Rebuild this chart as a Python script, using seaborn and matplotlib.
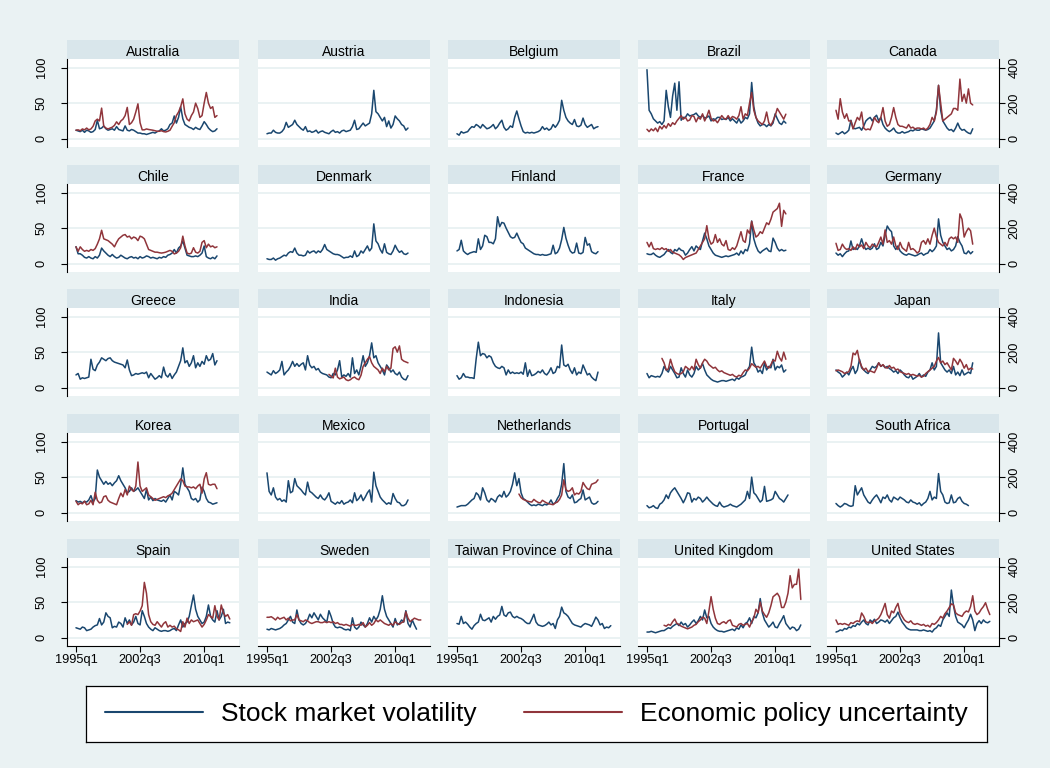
import numpy as np
import pandas as pd
import matplotlib
matplotlib.use("Agg")
import matplotlib.pyplot as plt
from matplotlib.lines import Line2D
import seaborn as sns

# ── data (quarterly, index 0 = 1995q1) ──────────────────────
countries = ["Australia", "Austria", "Belgium", "Brazil", "Canada",
             "Chile", "Denmark", "Finland", "France", "Germany",
             "Greece", "India", "Indonesia", "Italy", "Japan",
             "Korea", "Mexico", "Netherlands", "Portugal", "South Africa",
             "Spain", "Sweden", "Taiwan Province of China", "United Kingdom", "United States"]

xtick_labels = ["1995q1", "2002q3", "2010q1"]
vol_ticks = [0, 50, 100]
epu_ticks = [0, 200, 400]

australia_vol = [12, 11, 10, 12, 9, 12, 11, 9, 10, 13, 26, 14, 15, 18, 14, 12, 13, 14, 12, 17,
                 13, 12, 11, 18, 12, 11, 13, 12, 10, 8, 8, 7, 7, 6, 7, 8, 9, 8, 10, 11,
                 14, 11, 12, 14, 20, 22, 32, 22, 30, 45, 28, 20, 18, 16, 15, 13, 16, 14, 13, 18,
                 24, 20, 15, 12, 10, 11, 14]
australia_epu = [48, 50, 45, 55, 50, 60, 50, 55, 70, 100, 110, 100, 172, 70, 60, 55, 60, 65, 75, 95,
                 80, 100, 110, 130, 176, 80, 90, 110, 150, 196, 90, 50, 50, 55, 52, 50, 48, 45, 42, 42,
                 45, 40, 38, 42, 48, 70, 90, 130, 150, 180, 224, 140, 110, 100, 130, 150, 200, 170, 120, 130,
                 200, 260, 200, 170, 180, 120, 130]
austria_vol = [7, 8, 8, 12, 9, 8, 8, 10, 14, 23, 16, 18, 20, 26, 20, 17, 14, 12, 17, 10,
               11, 9, 10, 12, 8, 10, 11, 9, 8, 7, 10, 12, 9, 10, 8, 11, 12, 10, 11, 12,
               17, 26, 13, 14, 18, 22, 18, 20, 22, 35, 68, 38, 35, 30, 25, 30, 17, 25, 15, 20,
               32, 28, 25, 20, 18, 12, 15]
belgium_vol = [7, 5, 10, 8, 9, 10, 14, 17, 16, 20, 18, 15, 20, 17, 14, 15, 17, 20, 14, 17,
               22, 26, 16, 12, 14, 18, 16, 30, 39, 28, 18, 10, 8, 9, 8, 9, 8, 9, 10, 12,
               17, 13, 15, 12, 14, 20, 16, 20, 26, 54, 40, 30, 25, 22, 20, 27, 18, 17, 19, 29,
               20, 16, 18, 20, 14, 16, 17]
brazil_vol = [97, 40, 35, 28, 25, 22, 24, 20, 25, 68, 45, 30, 60, 78, 40, 80, 26, 30, 30, 35,
              32, 33, 34, 36, 32, 30, 33, 29, 30, 32, 25, 28, 27, 30, 30, 27, 28, 27, 30, 25,
              28, 25, 22, 28, 22, 25, 30, 28, 35, 79, 45, 30, 22, 18, 20, 20, 17, 20, 18, 22,
              35, 28, 22, 20, 25, 22]
brazil_epu = [53, 40, 55, 45, 60, 40, 70, 55, 75, 60, 85, 70, 90, 80, 100, 115, 130, 110, 120, 100,
              105, 130, 125, 95, 120, 110, 140, 100, 125, 160, 115, 100, 105, 90, 110, 130, 115, 110, 130, 110,
              125, 120, 110, 130, 180, 110, 140, 130, 200, 260, 160, 120, 100, 90, 80, 100, 150, 90, 75, 100,
              130, 170, 150, 130, 110, 138]
canada_vol = [8, 6, 8, 10, 7, 9, 12, 26, 15, 14, 15, 16, 12, 18, 25, 28, 30, 25, 30, 33,
              25, 30, 20, 15, 12, 10, 12, 15, 10, 8, 8, 10, 8, 9, 10, 12, 11, 13, 12, 12,
              14, 13, 12, 13, 15, 20, 25, 40, 75, 40, 25, 20, 15, 12, 13, 10, 15, 22, 15, 12,
              13, 10, 8, 7, 14]
canada_epu = [160, 110, 225, 150, 115, 140, 100, 100, 55, 90, 120, 105, 150, 60, 50, 55, 50, 80, 120, 100,
              90, 120, 175, 100, 70, 80, 120, 175, 120, 80, 70, 70, 65, 60, 80, 60, 65, 55, 60, 60,
              55, 60, 50, 60, 80, 120, 100, 150, 300, 200, 100, 110, 120, 130, 140, 170, 170, 160, 335, 210,
              250, 200, 280, 200, 190]
chile_vol = [24, 14, 14, 12, 9, 8, 10, 8, 7, 10, 8, 12, 22, 18, 15, 12, 10, 13, 10, 8,
             9, 12, 10, 8, 7, 9, 10, 8, 9, 7, 10, 8, 9, 11, 10, 8, 9, 8, 7, 9,
             8, 10, 9, 12, 13, 15, 20, 15, 22, 25, 32, 22, 12, 11, 10, 10, 11, 10, 12, 15,
             25, 10, 8, 7, 9, 7, 11]
chile_epu = [95, 70, 95, 80, 70, 75, 70, 80, 75, 85, 110, 140, 188, 140, 135, 130, 120, 110, 95, 120,
             140, 150, 160, 164, 150, 155, 140, 150, 145, 130, 155, 150, 140, 110, 80, 75, 70, 65, 65, 62,
             60, 62, 65, 70, 75, 70, 55, 60, 70, 90, 155, 100, 60, 55, 60, 90, 65, 60, 70, 120,
             130, 90, 110, 95, 100, 90, 95]
denmark_vol = [7, 6, 6, 8, 5, 7, 8, 10, 12, 11, 15, 17, 16, 22, 15, 12, 12, 11, 12, 18,
               15, 17, 18, 15, 18, 16, 20, 27, 20, 18, 16, 14, 13, 13, 12, 10, 8, 9, 9, 11,
               9, 18, 10, 12, 18, 15, 20, 25, 18, 22, 56, 32, 28, 20, 15, 28, 16, 14, 13, 18,
               26, 20, 16, 18, 14, 13, 15]
finland_vol = [18, 20, 33, 18, 15, 13, 15, 16, 17, 16, 35, 20, 25, 40, 38, 30, 30, 28, 35, 66,
               52, 58, 57, 50, 44, 38, 36, 37, 43, 36, 30, 28, 22, 20, 18, 16, 14, 13, 13, 12,
               13, 12, 12, 13, 14, 26, 14, 16, 22, 34, 51, 36, 26, 18, 15, 16, 29, 15, 14, 16,
               37, 26, 28, 17, 15, 14, 17]
france_vol = [14, 13, 13, 15, 12, 10, 9, 11, 13, 17, 20, 16, 14, 20, 18, 22, 19, 18, 12, 15,
              20, 24, 18, 25, 22, 20, 32, 43, 35, 25, 20, 15, 12, 11, 10, 9, 10, 11, 10, 11,
              12, 13, 15, 12, 18, 14, 20, 18, 28, 60, 35, 25, 18, 15, 18, 20, 22, 18, 17, 36,
              30, 22, 18, 20, 18, 19]
france_epu = [120, 95, 120, 85, 80, 85, 80, 90, 80, 85, 70, 80, 65, 60, 55, 50, 40, 24, 35, 40,
              45, 50, 55, 60, 80, 100, 120, 140, 214, 140, 110, 120, 164, 120, 140, 110, 100, 130, 80, 75,
              90, 80, 100, 140, 180, 130, 120, 190, 170, 238, 190, 150, 160, 180, 170, 200, 230, 220, 250, 290,
              300, 310, 340, 210, 300, 280]
germany_vol = [15, 12, 14, 10, 14, 17, 18, 32, 20, 22, 20, 25, 35, 25, 20, 22, 20, 22, 28, 20,
               22, 30, 25, 40, 53, 48, 45, 25, 20, 25, 18, 15, 13, 12, 14, 13, 12, 11, 12, 14,
               15, 12, 14, 15, 20, 17, 20, 25, 63, 40, 30, 25, 20, 22, 18, 20, 25, 38, 30, 25,
               15, 14, 18, 14, 17]
germany_epu = [115, 75, 80, 110, 90, 80, 85, 75, 95, 80, 110, 95, 105, 85, 120, 100, 90, 110, 100, 95,
               120, 150, 110, 190, 120, 130, 110, 150, 100, 80, 120, 90, 80, 70, 120, 80, 85, 75, 60, 70,
               120, 130, 110, 140, 110, 160, 200, 150, 120, 110, 100, 120, 100, 140, 150, 140, 150, 120, 280, 250,
               150, 180, 200, 185, 110]
greece_vol = [18, 20, 12, 14, 13, 14, 15, 40, 26, 24, 32, 36, 42, 40, 38, 41, 42, 38, 36, 35,
              34, 33, 32, 28, 39, 25, 17, 18, 20, 19, 20, 21, 20, 22, 14, 20, 16, 12, 14, 17,
              14, 29, 18, 15, 20, 13, 18, 22, 30, 38, 56, 35, 38, 30, 35, 45, 28, 35, 30, 37,
              33, 45, 38, 40, 48, 32, 38]
india_vol = [22, 20, 18, 24, 20, 22, 25, 37, 18, 22, 25, 30, 37, 30, 34, 30, 33, 35, 25, 45,
             32, 28, 30, 25, 27, 22, 20, 19, 18, 15, 14, 20, 18, 25, 38, 15, 18, 16, 20, 15,
             42, 20, 25, 18, 30, 45, 30, 35, 45, 63, 42, 45, 35, 30, 25, 18, 32, 28, 22, 25,
             20, 18, 22, 15, 12, 11, 17]
india_epu = [75, 65, 55, 110, 60, 50, 55, 60, 45, 40, 45, 55, 60, 50, 45, 70, 120, 140, 160, 175,
             140, 120, 110, 100, 80, 110, 90, 120, 100, 110, 220, 230, 200, 235, 160, 150, 145, 140]
indonesia_vol = [17, 12, 14, 20, 15, 15, 14, 14, 13, 41, 64, 45, 48, 47, 42, 45, 43, 35, 30, 28,
                 27, 30, 28, 18, 25, 20, 22, 20, 21, 20, 22, 19, 35, 16, 25, 17, 18, 20, 23, 21,
                 25, 20, 18, 22, 28, 20, 22, 30, 28, 60, 32, 30, 33, 25, 20, 28, 18, 22, 20, 32,
                 25, 18, 20, 15, 12, 10, 22]
italy_vol = [20, 14, 17, 16, 15, 16, 15, 20, 30, 25, 22, 30, 25, 20, 14, 15, 28, 20, 15, 25,
             18, 15, 20, 30, 25, 28, 34, 25, 18, 15, 12, 10, 9, 8, 9, 10, 10, 9, 10, 11,
             12, 10, 14, 12, 15, 16, 18, 25, 30, 57, 35, 30, 22, 25, 20, 35, 25, 30, 28, 40,
             25, 30, 28, 32, 22, 25]
italy_epu = [165, 140, 100, 105, 160, 120, 90, 80, 75, 80, 90, 120, 110, 100, 120, 100, 160, 130, 110, 140,
             160, 150, 130, 120, 110, 115, 100, 90, 95, 85, 80, 75, 70, 75, 65, 60, 70, 65, 85, 100,
             95, 110, 135, 125, 115, 120, 110, 130, 150, 120, 110, 130, 155, 150, 205, 170, 150, 200, 160]
japan_vol = [25, 22, 20, 15, 18, 22, 18, 25, 30, 20, 25, 40, 28, 25, 22, 20, 25, 30, 28, 30,
             35, 30, 32, 28, 30, 27, 25, 22, 24, 20, 25, 22, 18, 15, 14, 18, 12, 14, 16, 20,
             15, 18, 16, 22, 25, 35, 25, 30, 77, 35, 30, 25, 22, 25, 20, 30, 18, 22, 17, 25,
             18, 20, 22, 20, 35]
japan_epu = [95, 100, 95, 90, 80, 85, 90, 120, 195, 185, 210, 150, 120, 100, 110, 90, 95, 90, 85, 110,
             140, 120, 130, 115, 110, 125, 110, 115, 100, 105, 90, 85, 80, 75, 80, 70, 75, 70, 65, 70,
             60, 65, 80, 90, 100, 110, 120, 150, 170, 140, 150, 130, 140, 120, 100, 165, 150, 130, 160, 140,
             110, 130, 100, 110, 105]
korea_vol = [17, 15, 16, 14, 16, 15, 18, 24, 15, 20, 60, 50, 45, 40, 44, 40, 42, 38, 42, 45,
             52, 45, 40, 35, 28, 30, 35, 30, 32, 35, 30, 25, 20, 33, 18, 22, 17, 20, 18, 17,
             16, 18, 15, 20, 25, 18, 30, 28, 25, 40, 63, 40, 35, 30, 20, 18, 20, 15, 18, 36,
             30, 20, 15, 14, 12, 13, 14]
korea_epu = [65, 45, 55, 50, 65, 45, 50, 70, 45, 115, 70, 55, 60, 90, 95, 70, 60, 55, 50, 45,
             80, 110, 90, 130, 100, 150, 130, 120, 150, 285, 150, 120, 130, 140, 100, 90, 80, 70, 75, 80,
             85, 90, 85, 95, 100, 110, 130, 150, 170, 190, 180, 150, 145, 145, 140, 145, 135, 150, 160, 110,
             190, 225, 160, 155, 160, 160, 135]
mexico_vol = [56, 30, 25, 35, 22, 18, 20, 16, 18, 15, 45, 28, 30, 48, 38, 35, 32, 28, 25, 43,
              30, 28, 25, 22, 20, 25, 20, 18, 22, 28, 16, 14, 12, 15, 13, 17, 12, 14, 15, 18,
              14, 28, 17, 20, 25, 17, 22, 28, 32, 15, 57, 38, 30, 22, 18, 15, 12, 14, 12, 27,
              20, 15, 14, 10, 10, 12, 18]
netherlands_vol = [8, 9, 10, 10, 10, 12, 15, 18, 20, 28, 25, 18, 35, 28, 18, 15, 20, 18, 15, 22,
                   25, 22, 30, 22, 25, 30, 40, 56, 38, 48, 28, 20, 18, 15, 12, 10, 11, 10, 12, 11,
                   10, 12, 11, 13, 18, 12, 14, 20, 25, 40, 69, 30, 22, 20, 25, 14, 15, 18, 20, 32,
                   18, 20, 22, 14, 12, 13, 16]
netherlands_epu = [105, 85, 75, 70, 65, 62, 60, 75, 65, 58, 55, 70, 62, 55, 50, 48, 45, 55, 60, 75,
                   100, 185, 130, 120, 125, 140, 100, 110, 105, 120, 170, 150, 135, 130, 160, 165, 170, 185]
portugal_vol = [10, 7, 8, 10, 7, 6, 12, 14, 18, 25, 20, 28, 32, 35, 30, 25, 20, 14, 20, 28,
                27, 15, 20, 18, 22, 20, 15, 18, 22, 18, 15, 12, 10, 9, 15, 10, 8, 9, 10, 12,
                10, 9, 8, 10, 12, 15, 18, 30, 20, 50, 28, 25, 20, 15, 18, 37, 16, 17, 18, 20,
                30, 25, 20, 18, 15, 20, 25]
south_africa_vol = [13, 10, 8, 10, 13, 12, 10, 9, 10, 38, 25, 30, 35, 25, 20, 15, 13, 18, 22, 25,
                    20, 14, 22, 20, 25, 18, 15, 22, 20, 18, 22, 20, 18, 15, 14, 18, 15, 14, 12, 14,
                    10, 13, 15, 20, 30, 18, 22, 20, 55, 30, 25, 15, 13, 14, 25, 14, 15, 20, 22, 16,
                    13, 12, 10]
spain_vol = [14, 13, 12, 15, 14, 10, 11, 12, 15, 17, 18, 27, 18, 22, 35, 30, 28, 14, 16, 15,
             22, 20, 15, 28, 20, 25, 18, 22, 30, 20, 18, 38, 30, 20, 15, 12, 10, 14, 12, 10,
             9, 10, 10, 9, 10, 12, 13, 10, 18, 25, 15, 20, 22, 30, 45, 60, 40, 30, 25, 20,
             22, 30, 46, 30, 25, 22, 38, 25, 30, 40, 20, 22, 21]
spain_epu = [75, 90, 70, 130, 135, 130, 150, 180, 311, 250, 130, 90, 75, 70, 90, 75, 60, 80, 90, 60,
             70, 60, 65, 50, 45, 35, 90, 60, 110, 80, 100, 90, 95, 100, 80, 60, 75, 100, 130, 120,
             110, 180, 120, 100, 184, 140, 120, 130, 105]
sweden_vol = [12, 11, 13, 12, 11, 12, 13, 15, 18, 20, 25, 30, 22, 20, 39, 25, 20, 18, 20, 25,
              33, 28, 35, 30, 25, 33, 28, 25, 22, 38, 30, 20, 15, 14, 15, 14, 12, 11, 12, 10,
              28, 15, 12, 15, 22, 18, 15, 20, 28, 22, 30, 25, 30, 40, 59, 40, 30, 25, 20, 15,
              27, 18, 20, 25, 22, 38, 20, 15, 25, 18, 12]
sweden_epu = [115, 115, 118, 110, 100, 115, 105, 110, 115, 100, 110, 95, 100, 100, 130, 100, 95, 90, 100, 95,
              85, 80, 85, 90, 90, 85, 85, 90, 85, 90, 85, 90, 80, 85, 75, 75, 70, 75, 70, 65,
              75, 70, 70, 75, 70, 85, 60, 70, 85, 70, 80, 100, 90, 100, 90, 80, 75, 70, 80, 70,
              90, 80, 75, 85, 90, 146, 110, 90, 100, 110, 105, 100, 100]
taiwan_vol = [20, 19, 30, 20, 22, 19, 15, 12, 17, 20, 22, 33, 25, 24, 26, 28, 22, 30, 26, 30,
              32, 44, 32, 30, 35, 36, 30, 28, 30, 28, 27, 25, 22, 20, 20, 26, 33, 22, 18, 17,
              16, 17, 19, 22, 18, 20, 13, 25, 30, 43, 35, 33, 30, 25, 20, 18, 17, 16, 15, 18,
              20, 19, 18, 16, 22, 29, 25, 18, 20, 13, 15, 14, 17]
uk_vol = [8, 8, 9, 8, 7, 8, 9, 10, 10, 12, 14, 13, 16, 18, 20, 17, 22, 18, 20, 15,
          18, 22, 25, 20, 24, 30, 25, 39, 28, 30, 20, 15, 12, 10, 9, 9, 8, 9, 10, 11,
          12, 10, 14, 12, 18, 14, 20, 22, 28, 20, 30, 28, 35, 55, 35, 25, 20, 15, 18, 22,
          15, 14, 20, 25, 31, 20, 16, 12, 15, 14, 10, 12, 18]
uk_epu = [70, 65, 75, 70, 90, 105, 80, 75, 65, 60, 55, 50, 55, 60, 70, 75, 90, 100, 115, 110,
          80, 150, 231, 160, 110, 80, 75, 85, 90, 80, 95, 100, 70, 65, 60, 75, 80, 70, 75, 80,
          60, 90, 110, 160, 140, 200, 150, 130, 115, 140, 180, 230, 240, 250, 230, 170, 170, 200, 250, 349,
          280, 300, 300, 385, 215]
us_vol = [8, 9, 11, 10, 13, 12, 15, 14, 17, 16, 20, 18, 22, 25, 20, 18, 25, 22, 26, 20,
          22, 25, 24, 22, 25, 20, 24, 28, 30, 36, 28, 22, 18, 14, 12, 11, 11, 11, 11, 10,
          10, 11, 10, 9, 10, 8, 12, 14, 18, 16, 25, 30, 35, 30, 67, 45, 30, 22, 20, 18,
          14, 20, 25, 33, 25, 10, 20, 24, 20, 25, 22, 21, 23]
us_epu = [100, 75, 80, 75, 80, 75, 70, 85, 80, 90, 95, 90, 139, 120, 90, 85, 90, 80, 95, 100,
          110, 130, 160, 193, 130, 110, 150, 140, 170, 193, 140, 120, 100, 90, 85, 95, 80, 75, 80, 75,
          70, 75, 65, 70, 60, 80, 75, 85, 100, 120, 110, 135, 150, 170, 190, 185, 140, 130, 125, 120,
          140, 150, 145, 175, 236, 150, 130, 140, 160, 175, 197, 160, 130]

# first quarter of the policy-uncertainty series where it starts late
epu_start = {"India": "2002q2", "Italy": "1996q4", "Netherlands": "2002q2",
             "Spain": "2001q1", "United Kingdom": "1997q1"}

vol_series = {
    "Australia": australia_vol, "Austria": austria_vol, "Belgium": belgium_vol,
    "Brazil": brazil_vol, "Canada": canada_vol, "Chile": chile_vol, "Denmark": denmark_vol,
    "Finland": finland_vol, "France": france_vol, "Germany": germany_vol, "Greece": greece_vol,
    "India": india_vol, "Indonesia": indonesia_vol, "Italy": italy_vol, "Japan": japan_vol,
    "Korea": korea_vol, "Mexico": mexico_vol, "Netherlands": netherlands_vol,
    "Portugal": portugal_vol, "South Africa": south_africa_vol, "Spain": spain_vol,
    "Sweden": sweden_vol, "Taiwan Province of China": taiwan_vol,
    "United Kingdom": uk_vol, "United States": us_vol,
}
epu_series = {
    "Australia": australia_epu, "Brazil": brazil_epu, "Canada": canada_epu, "Chile": chile_epu,
    "France": france_epu, "Germany": germany_epu, "India": india_epu, "Italy": italy_epu,
    "Japan": japan_epu, "Korea": korea_epu, "Netherlands": netherlands_epu, "Spain": spain_epu,
    "Sweden": sweden_epu, "United Kingdom": uk_epu, "United States": us_epu,
}


def qidx(label):
    return (int(label[:4]) - 1995) * 4 + int(label[5]) - 1


rows = []
for c in countries:
    for i, v in enumerate(vol_series[c]):
        rows.append((c, "vol", i, v))
    if c in epu_series:
        s0 = qidx(epu_start.get(c, "1995q1"))
        for i, v in enumerate(epu_series[c]):
            rows.append((c, "epu", s0 + i, v))
df = pd.DataFrame(rows, columns=["country", "series", "t", "value"])

# ── style ───────────────────────────────────────────────────
BG = "#EAF2F3"
STRIP = "#D9E6EB"
GRID = "#EAF2F3"
BLUE = "#1A476F"
RED = "#90353B"

sns.set_theme(style="white")
plt.rcParams["font.family"] = ["Liberation Sans", "DejaVu Sans"]
plt.rcParams["text.color"] = "black"
plt.rcParams["xtick.color"] = "black"
plt.rcParams["ytick.color"] = "black"
plt.rcParams["xtick.labelcolor"] = "black"
plt.rcParams["ytick.labelcolor"] = "black"

W, H = 1050, 768
fig = plt.figure(figsize=(W / 100, H / 100), dpi=100, facecolor=BG)


def frac(x, y, w, h):
    return [x / W, 1 - (y + h) / H, w / W, h / H]


col_left = [67, 258, 448, 638, 827]
row_top = [40, 165, 289, 414, 539]
panel_w, strip_h, plot_h = 172, 19, 88
XLIM = (-4.2, 76.3)
YLIM = (-11.6, 112)
TICK_FS = 9.2

for k, c in enumerate(countries):
    r, col = divmod(k, 5)
    x0, y0 = col_left[col], row_top[r]

    strip = fig.add_axes(frac(x0, y0, panel_w, strip_h))
    strip.set_facecolor(STRIP)
    strip.set_xticks([]); strip.set_yticks([])
    for s in strip.spines.values():
        s.set_visible(False)
    strip.text(0.5, 0.45, c, ha="center", va="center_baseline", fontsize=10, color="black",
               transform=strip.transAxes)

    ax = fig.add_axes(frac(x0, y0 + strip_h, panel_w, plot_h))
    ax.set_facecolor("white")
    sub = df[df["country"] == c]
    sns.lineplot(data=sub[sub["series"] == "vol"], x="t", y="value", ax=ax,
                 color=BLUE, linewidth=1.1, estimator=None, legend=False)
    ax2 = ax.twinx()
    if c in epu_series:
        sns.lineplot(data=sub[sub["series"] == "epu"], x="t", y="value", ax=ax2,
                     color=RED, linewidth=1.1, estimator=None, legend=False)

    ax.set_xlim(XLIM)
    ax.set_ylim(YLIM)
    ax2.set_ylim(YLIM[0] * 4, YLIM[1] * 4)
    ax.set_xlabel(""); ax.set_ylabel(""); ax2.set_ylabel("")

    ax.set_yticks(vol_ticks)
    ax.yaxis.grid(True, color=GRID, linewidth=1.4)
    ax.xaxis.grid(False)
    ax.set_axisbelow(True)
    ax2.set_yticks(epu_ticks)
    ax2.grid(False)

    for name, s in ax.spines.items():
        s.set_visible((name == "left" and col == 0) or (name == "bottom" and r == 4))
        s.set_color("black"); s.set_linewidth(0.8)
    for name, s in ax2.spines.items():
        s.set_visible(name == "right" and col == 4)
        s.set_color("black"); s.set_linewidth(0.8)

    ax.tick_params(axis="y", left=(col == 0), labelleft=(col == 0), right=False, labelright=False,
                   length=4, width=0.8, color="black", labelcolor="black", labelsize=TICK_FS, pad=10)
    ax2.tick_params(axis="y", right=(col == 4), labelright=(col == 4), left=False, labelleft=False,
                    length=4, width=0.8, color="black", labelcolor="black", labelsize=TICK_FS, pad=3)
    if col == 0:
        ax.set_yticklabels([str(v) for v in vol_ticks], rotation=90, va="center")
    if col == 4:
        ax2.set_yticklabels([str(v) for v in epu_ticks], rotation=90, va="center")

    ax.set_xticks([qidx(l) for l in xtick_labels])
    if r == 4:
        ax.set_xticklabels(xtick_labels)
        ax.tick_params(axis="x", bottom=True, labelbottom=True, length=4, width=0.8,
                       color="black", labelcolor="black", labelsize=TICK_FS, pad=2)
    else:
        ax.tick_params(axis="x", bottom=False, labelbottom=False)
    ax2.tick_params(axis="x", bottom=False, labelbottom=False)

# ── legend ──────────────────────────────────────────────────
lax = fig.add_axes(frac(86, 686, 901, 56))
lax.set_facecolor("white")
lax.set_xticks([]); lax.set_yticks([])
for s in lax.spines.values():
    s.set_color("black"); s.set_linewidth(0.9)
handles = [Line2D([], [], color=BLUE, linewidth=1.5),
           Line2D([], [], color=RED, linewidth=1.5)]
leg = lax.legend(handles, ["Stock market volatility", "Economic policy uncertainty"],
                 loc="center", ncol=2, frameon=False, fontsize=19,
                 handlelength=3.7, handletextpad=0.7, columnspacing=1.8)
for t in leg.get_texts():
    t.set_color("black")

fig.savefig("out.png", dpi=100, facecolor=BG)
